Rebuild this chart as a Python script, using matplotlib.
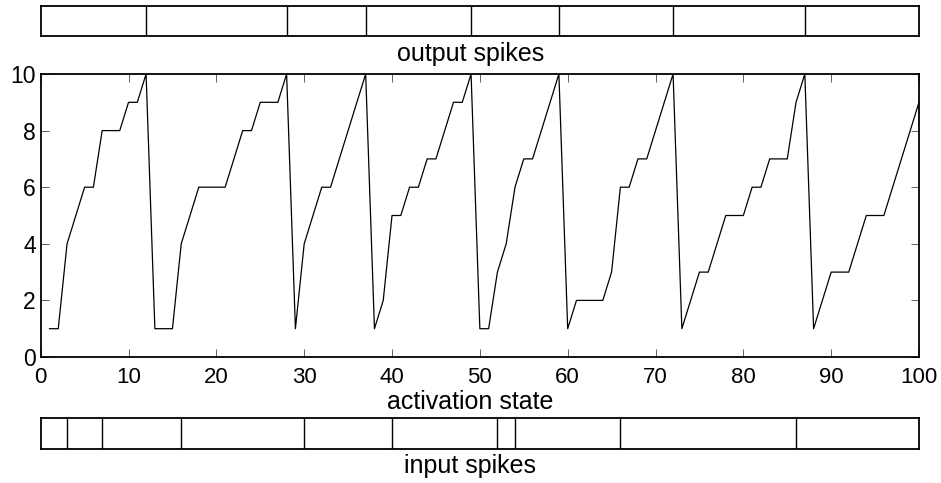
import matplotlib.pyplot as plt

plt.rcParams['font.family'] = ['Liberation Sans', 'DejaVu Sans']

# activation state: corner points of the trace (time step, level)
act_t = [1, 2, 3, 5, 6, 7, 9, 10, 11, 12,
         13, 15, 16, 18, 21, 23, 24, 25, 27, 28,
         29, 30, 32, 33, 37,
         38, 39, 40, 41, 42, 43, 44, 45, 47, 48, 49,
         50, 51, 52, 53, 54, 55, 56, 59,
         60, 61, 64, 65, 66, 67, 68, 69, 72,
         73, 75, 76, 78, 80, 81, 82, 83, 85, 86, 87,
         88, 90, 92, 94, 96, 100]
act_v = [1, 1, 4, 6, 6, 8, 8, 9, 9, 10,
         1, 1, 4, 6, 6, 8, 8, 9, 9, 10,
         1, 4, 6, 6, 10,
         1, 2, 5, 5, 6, 6, 7, 7, 9, 9, 10,
         1, 1, 3, 4, 6, 7, 7, 10,
         1, 2, 2, 3, 6, 6, 7, 7, 10,
         1, 3, 3, 5, 5, 6, 6, 7, 7, 9, 10,
         1, 3, 3, 5, 5, 9]

out_spikes = [12, 28, 37, 49, 59, 72, 87]
in_spikes = [3, 7, 16, 30, 40, 52, 54, 66, 86]

x_ticks = [0, 10, 20, 30, 40, 50, 60, 70, 80, 90, 100]
y_ticks = [0, 2, 4, 6, 8, 10]

fig = plt.figure(figsize=(9.41, 4.83), dpi=100)

W, H = 941.0, 483.0
left = 40.7 / W
width = (919.0 - 40.7) / W


def box(top_px, bot_px):
    return [left, 1 - bot_px / H, width, (bot_px - top_px) / H]


def spike_bar(ax, times):
    ax.vlines(times, 0, 1, color='black', linewidth=1.0)
    ax.set_xlim(0, 100)
    ax.set_ylim(0, 1)
    ax.set_xticks([])
    ax.set_yticks([])
    for s in ax.spines.values():
        s.set_linewidth(1.3)


ax_out = fig.add_axes(box(6, 36))
spike_bar(ax_out, out_spikes)

ax = fig.add_axes(box(74, 357))
ax.plot(act_t, act_v, color='black', linewidth=0.9)
ax.set_xlim(0, 100)
ax.set_ylim(0, 10)
ax.set_xticks(x_ticks)
ax.set_yticks(y_ticks)
ax.tick_params(direction='in', length=6, width=0.6, color='#444444',
               top=True, right=True, labelsize=16)
ax.tick_params(axis='x', pad=7)
ax.tick_params(axis='y', pad=3.5, labelsize=16.5)
for s in ax.spines.values():
    s.set_linewidth(1.3)

ax_in = fig.add_axes(box(418, 449))
spike_bar(ax_in, in_spikes)

fig.text(0.5, 1 - 54 / H, 'output spikes', ha='center', va='center', fontsize=18)
fig.text(0.5, 1 - 402 / H, 'activation state', ha='center', va='center', fontsize=18)
fig.text(0.5, 1 - 466 / H, 'input spikes', ha='center', va='center', fontsize=18)

fig.savefig('out.png', dpi=100)
